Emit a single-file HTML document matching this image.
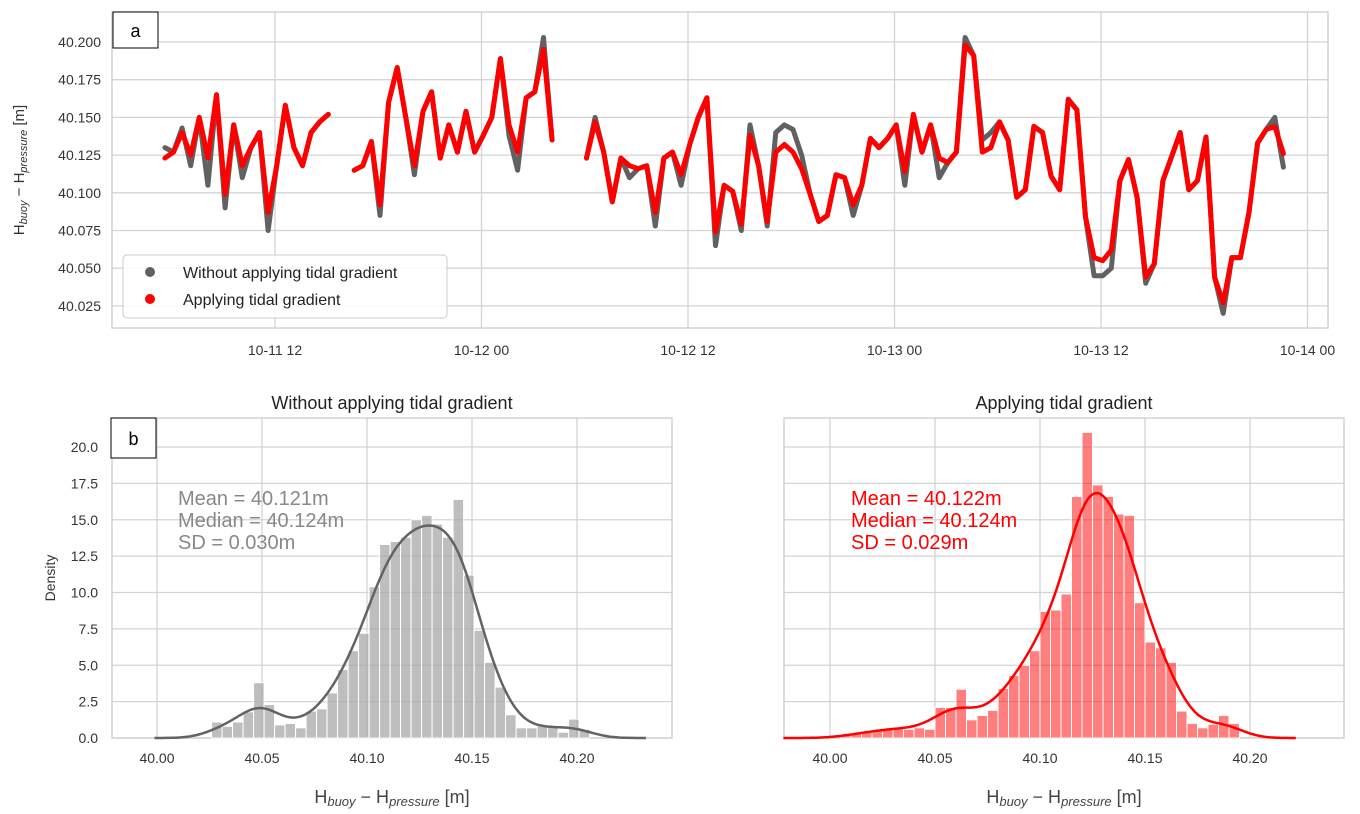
<!DOCTYPE html>
<html><head><meta charset="utf-8">
<style>
html,body{margin:0;padding:0;background:#fff;}
svg{display:block;font-family:"Liberation Sans",Arial,sans-serif;}
</style></head>
<body>
<svg id="chart" width="1360" height="814" viewBox="0 0 1360 814" xmlns="http://www.w3.org/2000/svg">
<rect x="0" y="0" width="1360" height="814" fill="#fff"/>
<g id="top"></g>
<g id="left"></g>
<g id="right"></g>
</svg>
<script>
// ---- time series data (hours relative to 10-11 12:00, 30-min step) ----
const tsStartHour = -6.4;
const tsStepHour = 0.5;
const redSeries = [40.123,40.127,40.140,40.125,40.150,40.123,40.165,40.099,40.145,40.118,40.130,40.140,40.087,40.118,40.158,40.130,40.118,40.140,40.147,40.152,null,null,40.115,40.118,40.134,40.092,40.160,40.183,40.150,40.118,40.154,40.167,40.123,40.145,40.127,40.154,40.127,40.138,40.150,40.189,40.145,40.127,40.163,40.167,40.195,40.135,null,null,null,40.123,40.147,40.127,40.094,40.123,40.118,40.116,40.118,40.087,40.123,40.127,40.112,40.132,40.150,40.163,40.074,40.105,40.101,40.079,40.138,40.118,40.081,40.127,40.132,40.127,40.116,40.099,40.081,40.085,40.112,40.110,40.092,40.105,40.136,40.130,40.136,40.145,40.114,40.152,40.127,40.145,40.123,40.120,40.127,40.198,40.191,40.127,40.130,40.147,40.135,40.097,40.102,40.144,40.140,40.111,40.102,40.162,40.155,40.084,40.057,40.055,40.062,40.108,40.122,40.097,40.044,40.053,40.108,40.124,40.140,40.102,40.108,40.137,40.044,40.027,40.057,40.057,40.087,40.133,40.142,40.144,40.126];
const greySeries = [40.130,40.127,40.143,40.118,40.150,40.105,40.165,40.090,40.145,40.110,40.130,40.140,40.075,40.118,40.158,40.130,40.118,40.140,40.147,40.152,null,null,40.115,40.118,40.134,40.085,40.160,40.183,40.150,40.112,40.154,40.167,40.123,40.145,40.127,40.154,40.127,40.138,40.150,40.189,40.138,40.115,40.163,40.167,40.203,40.135,null,null,null,40.123,40.150,40.127,40.094,40.123,40.110,40.116,40.118,40.078,40.123,40.127,40.105,40.132,40.150,40.163,40.065,40.105,40.101,40.075,40.145,40.118,40.078,40.140,40.145,40.142,40.125,40.099,40.081,40.085,40.112,40.110,40.085,40.105,40.136,40.130,40.136,40.145,40.105,40.152,40.127,40.145,40.110,40.120,40.127,40.203,40.191,40.135,40.140,40.147,40.135,40.097,40.102,40.144,40.140,40.111,40.102,40.162,40.155,40.084,40.045,40.045,40.050,40.108,40.122,40.097,40.040,40.053,40.108,40.124,40.140,40.102,40.108,40.137,40.044,40.020,40.057,40.057,40.087,40.133,40.142,40.150,40.117];
const tsYTicks = [40.025,40.050,40.075,40.100,40.125,40.150,40.175,40.200];
const tsXTickHours = [0,12,24,36,48,60];
const tsXTickLabels = ["10-11 12","10-12 00","10-12 12","10-13 00","10-13 12","10-14 00"];

// ---- histogram data ----
const binWidth = 0.005;
const leftStart = 40.026;
const leftDensity = [1.1,0.8,1.1,1.8,3.8,2.3,0.9,1.0,0.7,1.85,2.0,3.1,4.7,6.0,7.2,10.4,13.3,13.5,13.8,15.0,15.3,14.7,13.8,16.4,11.2,7.4,5.2,3.5,1.6,0.7,0.7,0.8,0.8,0.4,1.3,0.6];
const rightStart = 40.005;
const rightDensity = [0.2,0.3,0.4,0.5,0.65,0.75,0.6,0.7,0.6,2.1,2.1,3.35,1.25,1.55,1.9,3.4,4.3,5.0,6.0,8.7,8.8,9.9,16.6,21.0,17.4,16.6,15.4,15.3,9.3,6.6,6.2,5.2,1.85,1.0,0.7,0.95,1.55,1.0];
const histYTicks = [0,2.5,5,7.5,10,12.5,15,17.5,20];
const histYTickLabels = ["0.0","2.5","5.0","7.5","10.0","12.5","15.0","17.5","20.0"];
const histXTicks = [40.00,40.05,40.10,40.15,40.20];
const histXTickLabels = ["40.00","40.05","40.10","40.15","40.20"];

const NS = "http://www.w3.org/2000/svg";
function mk(parent, tag, attrs, text){
  const e = document.createElementNS(NS, tag);
  for (const k in attrs) e.setAttribute(k, attrs[k]);
  if (text !== undefined) e.textContent = text;
  parent.appendChild(e);
  return e;
}
const GRID = "#d4d4d4", TXT = "#333";

// ================= TOP PANEL =================
(function(){
  const g = document.getElementById('top');
  const L=112,R=1328,T=12,B=328;
  const xS = h => 275 + h*(206.5/12);
  const yS = v => 42 + (40.2 - v)/0.025*37.7;
  tsYTicks.forEach(v=>{
    const l = mk(g,'line',{x1:L,x2:R,y1:yS(v),y2:yS(v),stroke:GRID,'stroke-width':1.3});
    
    
    const t = mk(g,'text',{x:101,y:yS(v)+5,'text-anchor':'end','font-size':14,fill:TXT},v.toFixed(3));
    
    
  });
  tsXTickHours.forEach((h,i)=>{
    const l = mk(g,'line',{x1:xS(h),x2:xS(h),y1:T,y2:B,stroke:GRID,'stroke-width':1.3});
    
    
    const t = mk(g,'text',{x:xS(h),y:355,'text-anchor':'middle','font-size':14,fill:TXT},tsXTickLabels[i]);
    
    
  });
  const fr = mk(g,'rect',{x:L,y:T,width:R-L,height:B-T,fill:'none',stroke:'#ccc','stroke-width':1.3});
  
  
  function drawSeries(arr,color,name){
    let d="", pen=false;
    arr.forEach((v,i)=>{
      if (v===null){pen=false;return;}
      const x = xS(tsStartHour + i*tsStepHour), y = yS(v);
      d += (pen?"L":"M")+x.toFixed(1)+","+y.toFixed(1)+" ";
      pen=true;
    });
    const p = mk(g,'path',{d:d,fill:'none',stroke:color,'stroke-width':5,'stroke-linejoin':'round','stroke-linecap':'round'});
    
    
  }
  drawSeries(greySeries,'#616161','series-without-gradient');
  drawSeries(redSeries,'#ff0000','series-with-gradient');
  // label a
  const la = mk(g,'g',{});
  
  
  mk(la,'rect',{x:113,y:12,width:45,height:36,fill:'#fff',stroke:'#000','stroke-width':1});
  mk(la,'text',{x:135.5,y:37,'text-anchor':'middle','font-size':18,fill:'#000'},'a');
  // legend
  const lg = mk(g,'g',{});
  
  
  mk(lg,'rect',{x:123,y:255,width:324,height:63,rx:4,fill:'#fff','fill-opacity':0.85,stroke:'#ccc'});
  mk(lg,'circle',{cx:150,cy:272,r:5,fill:'#616161'});
  mk(lg,'text',{x:183,y:278,'font-size':16,fill:'#222'},'Without applying tidal gradient');
  mk(lg,'circle',{cx:150,cy:299,r:5,fill:'#ff0000'});
  mk(lg,'text',{x:183,y:305,'font-size':16,fill:'#222'},'Applying tidal gradient');
  // y title
  const yt = mk(g,'text',{transform:'translate(24,170) rotate(-90)','text-anchor':'middle','font-size':15,fill:TXT});
  
  
  yt.innerHTML = 'H<tspan font-size="11" font-style="italic" dy="3">buoy</tspan><tspan dy="-3"> − H</tspan><tspan font-size="11" font-style="italic" dy="3">pressure</tspan><tspan dy="-3"> [m]</tspan>';
})();

// ================= HISTOGRAMS =================
function histPanel(id,L,R,start,dens,barColor,barOpacity,lineColor,title,stats,statColor,x0px,showY,isLeft){
  const g = document.getElementById(id);
  const T=418,B=738;
  const xS = v => x0px + (v-40.0)*2100;
  const yS = d => B - d*14.55;
  histYTicks.forEach((v,i)=>{
    const l = mk(g,'line',{x1:L,x2:R,y1:yS(v),y2:yS(v),stroke:GRID,'stroke-width':1.3});
    
    
    if (showY){
      const t = mk(g,'text',{x:98,y:yS(v)+5,'text-anchor':'end','font-size':14,fill:TXT},histYTickLabels[i]);
      
      
    }
  });
  histXTicks.forEach((v,i)=>{
    const l = mk(g,'line',{x1:xS(v),x2:xS(v),y1:T,y2:B,stroke:GRID,'stroke-width':1.3});
    
    
    const t = mk(g,'text',{x:xS(v),y:763,'text-anchor':'middle','font-size':14,fill:TXT},histXTickLabels[i]);
    
    
  });
  const fr = mk(g,'rect',{x:L,y:T,width:R-L,height:B-T,fill:'none',stroke:'#ccc','stroke-width':1.3});
  
  
  dens.forEach((d,i)=>{
    const a = start + i*binWidth;
    const x1 = xS(a), x2 = xS(a+binWidth);
    const r = mk(g,'rect',{x:x1,y:yS(d),width:x2-x1,height:B-yS(d),fill:barColor,'fill-opacity':barOpacity,stroke:'#fff','stroke-width':1});
    
    
  });
  // KDE from the histogram (gaussian smoothing)
  const bw = 0.0085;
  let pts=[];
  const lo = start - 3.2*bw, hi = start + dens.length*binWidth + 3.2*bw;
  for (let v=lo; v<=hi; v+=0.001){
    let s=0;
    dens.forEach((d,i)=>{
      const c = start + (i+0.5)*binWidth;
      const z=(v-c)/bw;
      s += d*binWidth*Math.exp(-0.5*z*z)/(bw*Math.sqrt(2*Math.PI));
    });
    pts.push(xS(v).toFixed(1)+","+yS(s).toFixed(1));
  }
  const k = mk(g,'polyline',{points:pts.join(" "),fill:'none',stroke:lineColor,'stroke-width':2.5});
  
  
  const tt = mk(g,'text',{x:(L+R)/2,y:409,'text-anchor':'middle','font-size':18,fill:'#222'},title);
  
  
  stats.forEach((s,i)=>{
    const t = mk(g,'text',{x:isLeft?178:851,y:505+i*22,'font-size':20,fill:statColor},s);
    
    
  });
  const xl = mk(g,'text',{x:(L+R)/2,y:803,'text-anchor':'middle','font-size':18,fill:'#444'});
  
  
  xl.innerHTML = 'H<tspan font-size="13" font-style="italic" dy="3">buoy</tspan><tspan dy="-3"> − H</tspan><tspan font-size="13" font-style="italic" dy="3">pressure</tspan><tspan dy="-3"> [m]</tspan>';
  if (isLeft){
    const yl = mk(g,'text',{transform:'translate(55,578) rotate(-90)','text-anchor':'middle','font-size':14,fill:TXT},'Density');
    
    
    const lb = mk(g,'g',{});
    
    
    mk(lb,'rect',{x:111,y:418,width:45,height:40,fill:'#fff',stroke:'#000','stroke-width':1});
    mk(lb,'text',{x:133.5,y:445,'text-anchor':'middle','font-size':18,fill:'#000'},'b');
  }
}
histPanel('left',112,672,leftStart,leftDensity,'#a8a8a8',0.75,'#636363','Without applying tidal gradient',
  ['Mean = 40.121m','Median = 40.124m','SD = 0.030m'],'#888',157,true,true);
histPanel('right',784,1344,rightStart,rightDensity,'#ff0000',0.5,'#ff0000','Applying tidal gradient',
  ['Mean = 40.122m','Median = 40.124m','SD = 0.029m'],'#ff0000',830,false,false);
</script>
</body></html>
